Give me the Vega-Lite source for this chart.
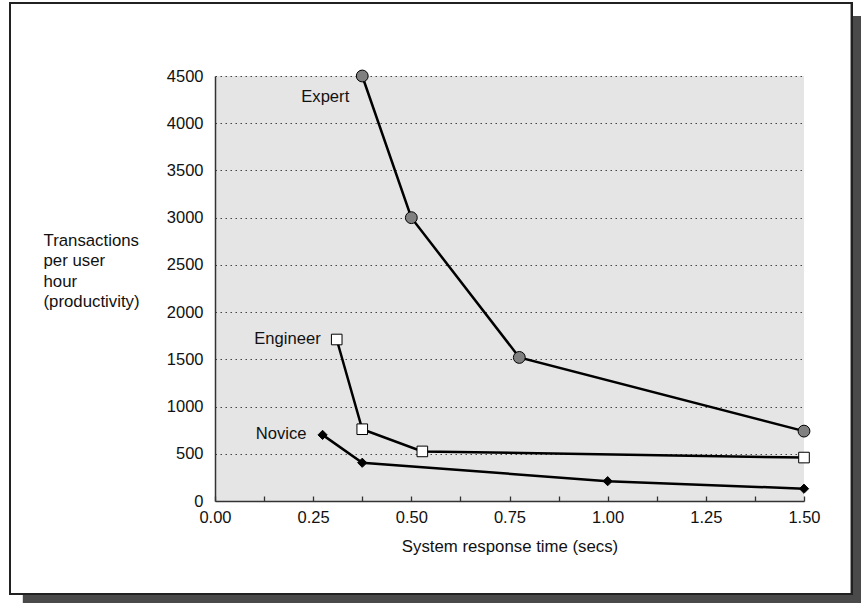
{
  "$schema": "https://vega.github.io/schema/vega-lite/v6.json",
  "width": 589,
  "height": 425,
  "autosize": {"type": "none"},
  "padding": {"left": 215, "top": 76, "right": 57, "bottom": 102},
  "background": "white",
  "config": {
    "view": {"fill": "#e5e5e5", "stroke": null},
    "font": "Liberation Sans",
    "axis": {"labelFont": "Liberation Sans", "titleFont": "Liberation Sans", "labelFontSize": 16.5, "titleFontSize": 16.8, "labelColor": "#111", "titleColor": "#111", "titleFontWeight": "normal", "domainColor": "#333", "domainWidth": 1.5}
  },
  "data": {
    "values": [
      {"series": "Expert", "time": 0.375, "tph": 4500},
      {"series": "Expert", "time": 0.5, "tph": 3000},
      {"series": "Expert", "time": 0.775, "tph": 1520},
      {"series": "Expert", "time": 1.5, "tph": 740},
      {"series": "Engineer", "time": 0.31, "tph": 1710},
      {"series": "Engineer", "time": 0.375, "tph": 760},
      {"series": "Engineer", "time": 0.528, "tph": 525},
      {"series": "Engineer", "time": 1.5, "tph": 460},
      {"series": "Novice", "time": 0.274, "tph": 700},
      {"series": "Novice", "time": 0.375, "tph": 405},
      {"series": "Novice", "time": 1.0, "tph": 210},
      {"series": "Novice", "time": 1.5, "tph": 130}
    ]
  },
  "encoding": {
    "x": {
      "field": "time", "type": "quantitative",
      "scale": {"domain": [0, 1.5], "nice": false, "zero": false},
      "axis": {
        "title": "System response time (secs)",
        "values": [0, 0.125, 0.25, 0.375, 0.5, 0.625, 0.75, 0.875, 1, 1.125, 1.25, 1.375, 1.5],
        "labelExpr": "(datum.value * 4) % 1 == 0 ? format(datum.value, '.2f') : ''",
        "offset": -5, "domain": false,
        "tickSize": 5, "tickColor": "#333", "tickWidth": 1.3,
        "labelPadding": 8, "grid": false,
        "titleY": 55.5, "titleBaseline": "alphabetic", "labelFlush": false, "labelOverlap": false
      }
    },
    "y": {
      "field": "tph", "type": "quantitative",
      "scale": {"domain": [0, 4500], "nice": false, "zero": false},
      "axis": {
        "title": ["Transactions", "per user", "hour", "(productivity)"],
        "format": "d",
        "values": [0, 500, 1000, 1500, 2000, 2500, 3000, 3500, 4000, 4500],
        "ticks": false, "labelPadding": 12,
        "grid": true,
        "gridDash": {"condition": {"test": "datum.value == 0", "value": []}, "value": [1.5, 3.5]},
        "gridColor": {"condition": {"test": "datum.value == 0", "value": "#333"}, "value": "#444"},
        "gridWidth": {"condition": {"test": "datum.value == 0", "value": 1.5}, "value": 1},
        "titleAngle": 0, "titleAlign": "left", "titleBaseline": "alphabetic",
        "titleX": -172, "titleY": 169, "titleLineHeight": 20.5, "labelFlush": false, "labelOverlap": false
      }
    }
  },
  "layer": [
    {
      "mark": {"type": "rect", "fill": "#4a4a4a", "clip": false},
      "encoding": {
        "x": {"datum": 1.6215, "type": "quantitative"},
        "x2": {"datum": 1.6452},
        "y": {"datum": 5135, "type": "quantitative"},
        "y2": {"datum": -1080}
      }
    },
    {
      "mark": {"type": "rect", "fill": "#4a4a4a", "clip": false},
      "encoding": {
        "x": {"datum": -0.489, "type": "quantitative"},
        "x2": {"datum": 1.6452},
        "y": {"datum": -985, "type": "quantitative"},
        "y2": {"datum": -1080}
      }
    },
    {
      "mark": {"type": "rect", "fill": null, "fillOpacity": 0, "stroke": "#222", "strokeWidth": 1.5, "clip": false},
      "encoding": {
        "x": {"datum": -0.5221, "type": "quantitative"},
        "x2": {"datum": 1.6215},
        "y": {"datum": 5273, "type": "quantitative"},
        "y2": {"datum": -985}
      }
    },
    {
      "mark": {"type": "line", "color": "black", "strokeWidth": 2.5},
      "encoding": {"detail": {"field": "series"}}
    },
    {
      "mark": {"type": "point", "filled": true, "stroke": "black", "strokeWidth": 1, "opacity": 1},
      "encoding": {
        "shape": {"field": "series", "type": "nominal", "scale": {"domain": ["Expert", "Engineer", "Novice"], "range": ["circle", "square", "diamond"]}, "legend": null},
        "fill": {"field": "series", "type": "nominal", "scale": {"domain": ["Expert", "Engineer", "Novice"], "range": ["#808080", "#ffffff", "#000000"]}, "legend": null},
        "size": {"field": "series", "type": "nominal", "scale": {"domain": ["Expert", "Engineer", "Novice"], "range": [140, 85, 100]}, "legend": null}
      }
    },
    {
      "transform": [{"filter": "(datum.series == 'Engineer' && datum.time == 0.31) || (datum.series == 'Novice' && datum.time == 0.274)"}],
      "mark": {"type": "text", "align": "right", "baseline": "middle", "dx": -16, "dy": -1, "fontSize": 16.6, "font": "Liberation Sans", "color": "#111"},
      "encoding": {"text": {"field": "series"}}
    },
    {
      "transform": [{"filter": "datum.series == 'Expert' && datum.time == 0.375"}],
      "mark": {"type": "text", "align": "right", "baseline": "middle", "dx": -13, "dy": 21, "fontSize": 16.6, "font": "Liberation Sans", "color": "#111"},
      "encoding": {"text": {"field": "series"}}
    }
  ]
}
